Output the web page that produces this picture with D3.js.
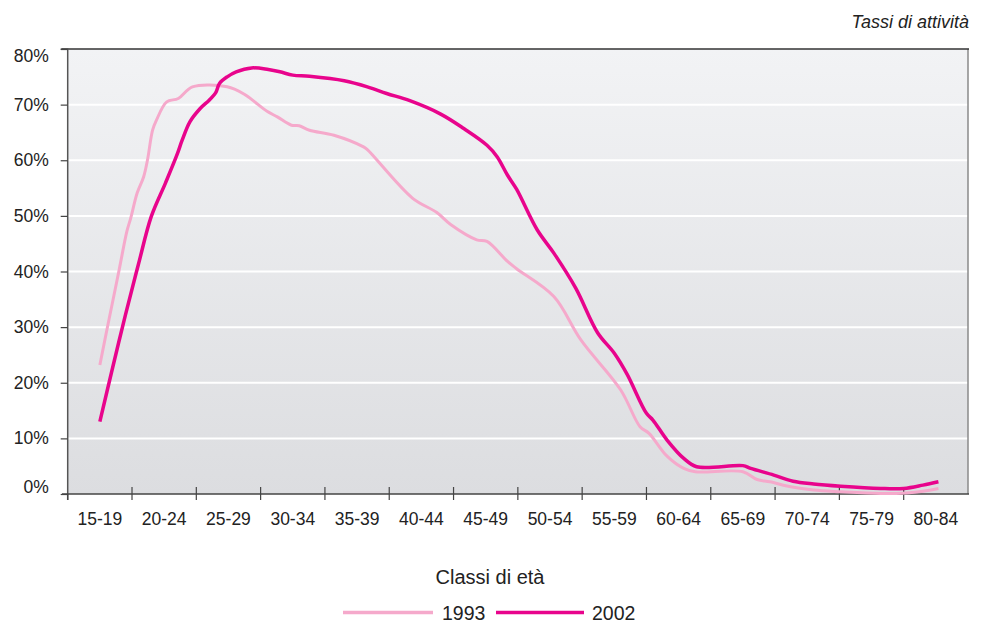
<!DOCTYPE html>
<html>
<head>
<meta charset="utf-8">
<script src="https://cdn.jsdelivr.net/npm/d3@7"></script>
<style>
  html, body { margin: 0; padding: 0; background: #fff; }
  svg { display: block; font-family: "Liberation Sans", Arial, Helvetica, sans-serif; }
</style>
</head>
<body>
<svg id="chart" width="984" height="623"></svg>
<script>
// ---- Data ----
const categories = ["15-19","20-24","25-29","30-34","35-39","40-44","45-49","50-54","55-59","60-64","65-69","70-74","75-79","80-84"];
const yTickValues = [0, 10, 20, 30, 40, 50, 60, 70, 80];
const seriesNames = ["1993", "2002"];

const ages1993 = [17.0,17.6,18.5,19.1,19.4,19.9,20.4,20.7,21.1,21.4,22.2,23.1,24.2,26.9,28.2,30.0,30.8,31.9,32.5,33.3,35.2,37.5,37.8,41.3,43.2,44.3,46.3,47.1,48.7,49.4,52.3,54.4,57.5,59.0,59.7,61.1,62.4,63.3,67.0,68.1,69.1,70.7,72.5,74.6,77.7,79.7,81.0,82.2];
const values1993 = [23.2,30.1,40.3,47.2,49.6,54.1,57.0,60.0,65.4,67.2,70.5,71.1,73.2,73.2,71.9,68.8,67.8,66.3,66.2,65.4,64.5,62.4,61.9,53.2,50.6,48.4,45.7,45.4,41.8,40.5,35.5,27.7,18.7,12.1,10.9,6.8,4.6,4.0,4.0,2.6,2.2,1.3,0.7,0.4,0.1,0.2,0.5,1.0];

const ages2002 = [17.0,17.9,19.0,20.0,21.0,22.1,23.0,23.4,24.0,24.8,25.5,26.0,26.3,26.9,27.6,28.8,30.1,31.0,32.0,33.3,36.0,37.8,39.3,41.1,43.5,45.3,47.1,47.9,48.7,49.4,51.0,52.3,54.0,55.7,57.0,58.0,59.5,60.0,61.1,62.4,63.4,67.0,67.6,69.4,70.9,72.5,74.6,77.7,79.5,81.0,82.2];
const values2002 = [13.0,21.8,32.3,41.3,49.9,55.9,61.0,63.6,66.9,69.3,70.8,72.1,73.8,75.0,75.9,76.6,76.3,75.9,75.3,75.1,74.3,73.2,72.0,70.7,68.3,65.7,62.7,60.6,57.3,54.8,47.5,43.3,37.0,29.0,25.3,21.5,14.5,13.3,9.7,6.4,4.9,5.1,4.6,3.4,2.3,1.8,1.4,1.0,1.0,1.6,2.2];

const colors = { "1993": "#f5a9cb", "2002": "#e8048c" };

// ---- Layout ----
const svg = d3.select("#chart");
const mLeft = 67.7, mRight = 968, mTop = 49, mBottom = 494;

const xBand = d3.scaleBand().domain(categories).range([mLeft, mRight]).padding(0);
const xAge = d3.scaleLinear().domain([14.5, 84.5]).range([mLeft, mRight]);
const y = d3.scaleLinear().domain([0, 80]).range([mBottom, mTop]);

// background gradient
const defs = svg.append("defs");
const grad = defs.append("linearGradient").attr("id", "bg").attr("x1", 0).attr("y1", 0).attr("x2", 0).attr("y2", 1);
grad.append("stop").attr("offset", "0%").attr("stop-color", "#f2f3f5");
grad.append("stop").attr("offset", "100%").attr("stop-color", "#dcdde0");

svg.append("rect").attr("x", mLeft).attr("y", mTop).attr("width", mRight - mLeft).attr("height", mBottom - mTop)
  .attr("fill", "url(#bg)");

// gridlines
svg.append("g").selectAll("line").data(yTickValues.filter(d => d > 0 && d < 80)).join("line")
  .attr("x1", mLeft).attr("x2", mRight)
  .attr("y1", d => y(d)).attr("y2", d => y(d))
  .attr("stroke", "#ffffff").attr("stroke-width", 2);

// right border
svg.append("line").attr("x1", mRight).attr("x2", mRight).attr("y1", mTop).attr("y2", mBottom)
  .attr("stroke", "#8a8a8a").attr("stroke-width", 1.5);
// top border
svg.append("line").attr("x1", 62).attr("x2", mRight + 1).attr("y1", mTop).attr("y2", mTop)
  .attr("stroke", "#333").attr("stroke-width", 1.5);

// Y axis
const yAxis = d3.axisLeft(y).tickValues(yTickValues).tickSize(7).tickPadding(12)
  .tickFormat(d => d + "%");
const gy = svg.append("g").attr("transform", `translate(${mLeft},0)`).call(yAxis);
gy.select(".domain").attr("stroke", "#555").attr("stroke-width", 1.5).attr("d", `M-7,${mTop}H0V${mBottom + 6}`);
gy.selectAll(".tick line").attr("stroke", "#444").attr("stroke-width", 1.2);
gy.selectAll(".tick text").attr("font-size", 17.5).attr("fill", "#222")
  .attr("dy", d => d === 0 ? "-0.08em" : (d === 80 ? "0.7em" : "0.32em"));

// X axis labels
const xAxis = d3.axisBottom(xBand).tickSize(0).tickPadding(19);
const gx = svg.append("g").attr("transform", `translate(0,${mBottom})`).call(xAxis);
gx.select(".domain").attr("stroke", "#444").attr("stroke-width", 1.5).attr("d", `M62,0H${mRight + 1}`);
gx.selectAll(".tick text").attr("font-size", 17.5).attr("fill", "#222");

// X boundary ticks
const boundaries = d3.range(0, categories.length).map(i => 14.5 + i * 5);
svg.append("g").selectAll("line").data(boundaries).join("line")
  .attr("x1", d => xAge(d)).attr("x2", d => xAge(d))
  .attr("y1", (d, i) => i === 0 ? mBottom : mBottom - 7).attr("y2", mBottom + 6)
  .attr("stroke", "#444").attr("stroke-width", 1.2);

// Lines
const line = d3.line().x(d => xAge(d[0])).y(d => y(d[1])).curve(d3.curveCatmullRom.alpha(0.5));
const data1993 = ages1993.map((a, i) => [a, values1993[i]]);
const data2002 = ages2002.map((a, i) => [a, values2002[i]]);

svg.append("path").datum(data1993).attr("d", line).attr("fill", "none")
  .attr("stroke", colors["1993"]).attr("stroke-width", 3).attr("stroke-linejoin", "round");
svg.append("path").datum(data2002).attr("d", line).attr("fill", "none")
  .attr("stroke", colors["2002"]).attr("stroke-width", 3.5).attr("stroke-linejoin", "round");

// Top-right label
svg.append("text").attr("x", 969).attr("y", 28).attr("text-anchor", "end")
  .attr("font-size", 18).attr("font-style", "italic").attr("fill", "#222").text("Tassi di attività");

// X title
svg.append("text").attr("x", 490).attr("y", 584).attr("text-anchor", "middle")
  .attr("font-size", 20).attr("fill", "#222").text("Classi di età");

// Legend
const legend = [
  { name: seriesNames[0], x1: 343, x2: 433, tx: 442, w: 3.5 },
  { name: seriesNames[1], x1: 496, x2: 584, tx: 592, w: 3.5 }
];
const lg = svg.append("g");
legend.forEach(l => {
  lg.append("line").attr("x1", l.x1).attr("x2", l.x2).attr("y1", 612.5).attr("y2", 612.5)
    .attr("stroke", colors[l.name]).attr("stroke-width", l.w);
  lg.append("text").attr("x", l.tx).attr("y", 619.5).attr("font-size", 19.5).attr("fill", "#222").text(l.name);
});
</script>
</body>
</html>
